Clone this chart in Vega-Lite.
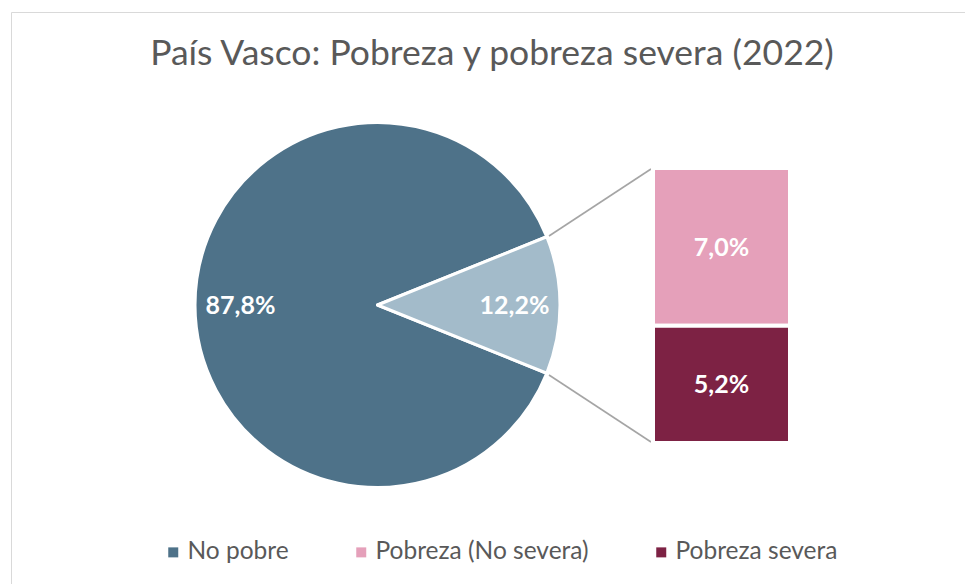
{
  "$schema": "https://vega.github.io/schema/vega-lite/v6.json",
  "autosize": {"type": "none"},
  "padding": {"left": 11, "top": 12, "right": 0, "bottom": 0},
  "width": 954,
  "height": 572,
  "background": "white",
  "config": {
    "view": {"stroke": "#D9D9D9", "strokeWidth": 1},
    "locale": {"number": {"decimal": ",", "thousands": ".", "grouping": [3], "currency": ["", " €"]}},
    "font": "Lato"
  },
  "title": {
    "text": "País Vasco: Pobreza y pobreza severa (2022)",
    "font": "Lato",
    "fontSize": 35.5,
    "fontWeight": "normal",
    "color": "#595959",
    "anchor": "middle",
    "frame": "group",
    "offset": -88,
    "baseline": "alphabetic",
    "dx": 4
  },
  "datasets": {
    "tarta": [
      {"grupo": "No pobre", "valor": 0.878},
      {"grupo": "Pobreza", "valor": 0.122}
    ],
    "desglose": [
      {"desglose": "Pobreza", "grupo": "Pobreza (No severa)", "valor": 0.070},
      {"desglose": "Pobreza", "grupo": "Pobreza severa", "valor": 0.052}
    ]
  },
  "layer": [
    {
      "data": {"name": "tarta"},
      "mark": {"type": "arc", "x": 366.5, "y": 293, "outerRadius": 182.5, "stroke": "white", "strokeWidth": 3, "strokeJoin": "round"},
      "encoding": {
        "theta": {"field": "valor", "type": "quantitative", "stack": true, "scale": {"range": [1.187522, 7.470707]}},
        "order": {"field": "grupo", "sort": "descending"},
        "color": {
          "condition": {"test": "datum.grupo === 'Pobreza'", "value": "#A3BBCA"},
          "field": "grupo",
          "type": "nominal",
          "scale": {
            "domain": ["No pobre", "Pobreza (No severa)", "Pobreza severa"],
            "range": ["#4E7289", "#E5A0BA", "#7D2244"]
          },
          "legend": {
            "orient": "none",
            "legendX": 150,
            "legendY": 528,
            "direction": "horizontal",
            "columns": 3,
            "title": null,
            "symbolType": "square",
            "symbolSize": 100,
            "symbolStrokeWidth": 0,
            "labelFont": "Lato",
            "labelFontSize": 24.5,
            "labelColor": "#595959",
            "labelOffset": 2,
            "labelLimit": 500,
            "columnPadding": 60
          }
        }
      }
    },
    {
      "data": {"name": "tarta"},
      "mark": {"type": "text", "x": 366.5, "y": 293, "radius": 137, "color": "white", "font": "Lato", "fontWeight": "bold", "fontSize": 25, "align": "center", "baseline": "middle", "dy": 1},
      "encoding": {
        "theta": {"field": "valor", "type": "quantitative", "stack": true, "scale": {"range": [1.187522, 7.470707]}},
        "order": {"field": "grupo", "sort": "descending"},
        "detail": {"field": "grupo"},
        "text": {"field": "valor", "type": "quantitative", "format": ".1%"}
      }
    },
    {
      "data": {"values": [{"conector": "superior"}]},
      "mark": {"type": "rule", "color": "#A5A5A5", "strokeWidth": 1.6},
      "encoding": {"x": {"value": 538}, "y": {"value": 224}, "x2": {"value": 640}, "y2": {"value": 157}}
    },
    {
      "data": {"values": [{"conector": "inferior"}]},
      "mark": {"type": "rule", "color": "#A5A5A5", "strokeWidth": 1.6},
      "encoding": {"x": {"value": 538}, "y": {"value": 363}, "x2": {"value": 640}, "y2": {"value": 430}}
    },
    {
      "data": {"name": "desglose"},
      "mark": {"type": "bar", "stroke": "white", "strokeWidth": 4},
      "encoding": {
        "x": {"field": "desglose", "type": "nominal", "scale": {"range": [642, 779], "paddingInner": 0, "paddingOuter": 0}, "axis": null},
        "y": {"field": "valor", "type": "quantitative", "stack": "zero", "scale": {"domain": [0, 0.122], "range": [431, 156], "nice": false, "zero": true}, "axis": null},
        "order": {"field": "grupo", "sort": "descending"},
        "color": {
          "field": "grupo",
          "type": "nominal",
          "scale": {
            "domain": ["No pobre", "Pobreza (No severa)", "Pobreza severa"],
            "range": ["#4E7289", "#E5A0BA", "#7D2244"]
          }
        }
      }
    },
    {
      "data": {"name": "desglose"},
      "mark": {"type": "text", "color": "white", "font": "Lato", "fontWeight": "bold", "fontSize": 25, "align": "center", "baseline": "middle", "dy": 1},
      "encoding": {
        "x": {"field": "desglose", "type": "nominal", "scale": {"range": [642, 779], "paddingInner": 0, "paddingOuter": 0}, "axis": null},
        "y": {"field": "valor", "type": "quantitative", "stack": "zero", "bandPosition": 0.5, "scale": {"domain": [0, 0.122], "range": [431, 156], "nice": false, "zero": true}, "axis": null},
        "order": {"field": "grupo", "sort": "descending"},
        "detail": {"field": "grupo"},
        "text": {"field": "valor", "type": "quantitative", "format": ".1%"}
      }
    }
  ]
}
